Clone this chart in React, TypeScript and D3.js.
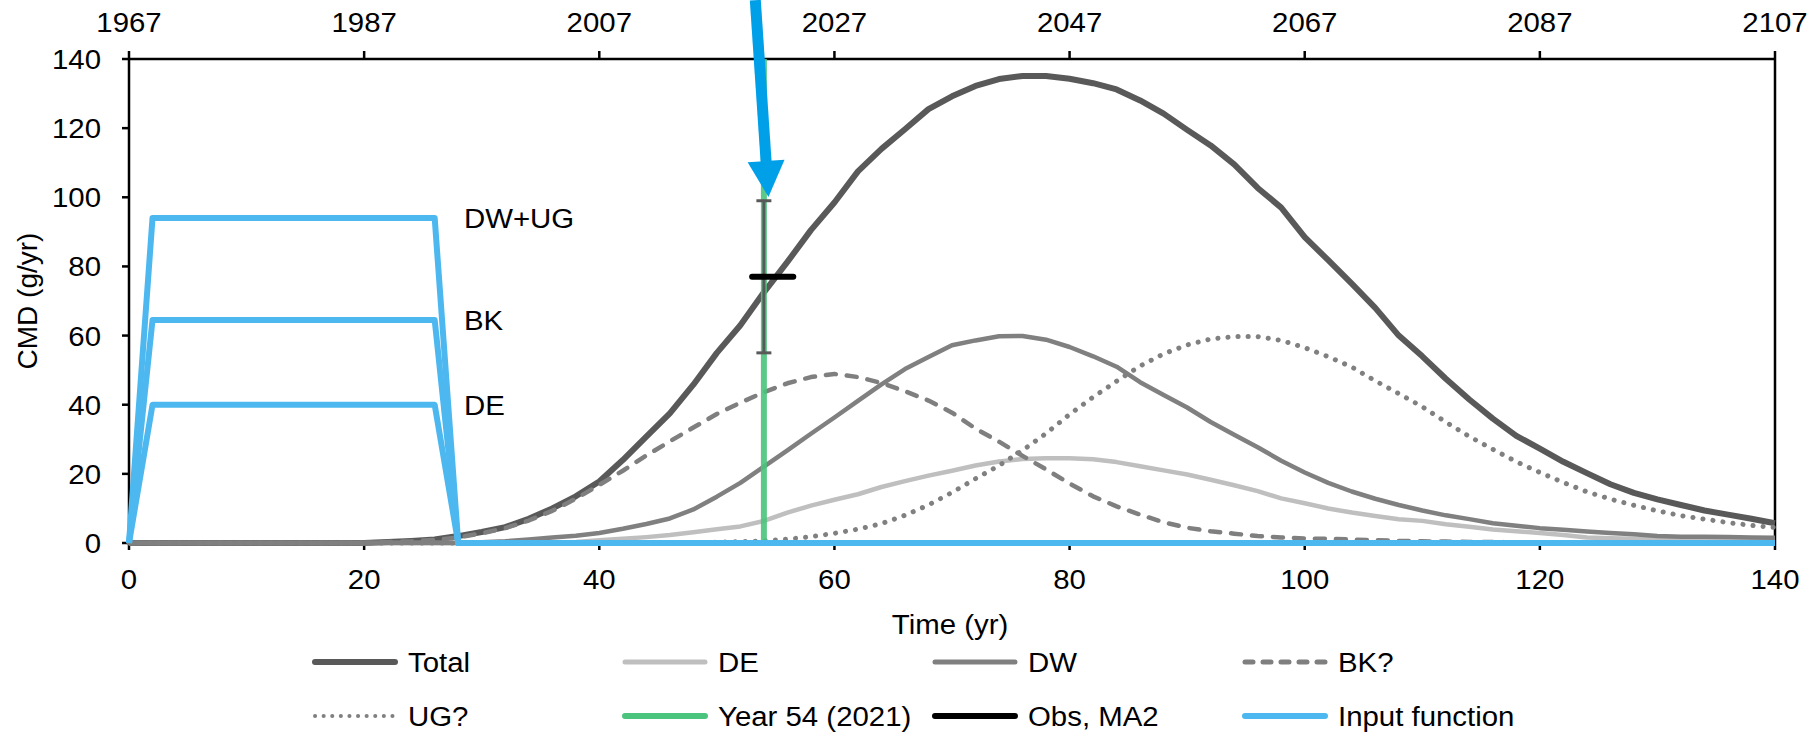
import React from "react";
import * as d3 from "d3";

// time axis (yr since 1967), every 2 years
const years = [
  0, 2, 4, 6, 8, 10, 12, 14, 16, 18, 20,
  22, 24, 26, 28, 30, 32, 34, 36, 38, 40,
  42, 44, 46, 48, 50, 52, 54, 56, 58, 60,
  62, 64, 66, 68, 70, 72, 74, 76, 78, 80,
  82, 84, 86, 88, 90, 92, 94, 96, 98, 100,
  102, 104, 106, 108, 110, 112, 114, 116, 118, 120,
  122, 124, 126, 128, 130, 132, 134, 136, 138, 140,
];

const total = [
  0, 0, 0, 0, 0, 0, 0, 0, 0, 0, 0,
  0.3, 0.6, 1.0, 2.0, 3.2, 4.6, 7.0, 10.0, 13.5, 17.8,
  24.0, 30.8, 37.5, 45.8, 55.0, 63.0, 72.5, 81.3, 90.5, 98.5,
  107.5, 114.0, 119.7, 125.5, 129.2, 132.2, 134.2, 135.1, 135.1, 134.3,
  133.0, 131.2, 128.0, 124.2, 119.5, 115.0, 109.5, 102.7, 97.0, 88.5,
  81.8, 75.0, 68.0, 60.0, 54.0, 47.5, 41.5, 36.0, 31.0, 27.3,
  23.5, 20.2, 17.0, 14.5, 12.6, 11.0, 9.4, 8.2, 7.0, 5.7,
];

const de = [
  0, 0, 0, 0, 0, 0, 0, 0, 0, 0, 0,
  0, 0, 0, 0, 0, 0, 0, 0, 0.3, 0.8,
  1.2, 1.7, 2.3, 3.1, 4.0, 4.8, 6.4, 8.8, 10.8, 12.5,
  14.1, 16.2, 17.9, 19.5, 20.9, 22.4, 23.6, 24.3, 24.5, 24.5,
  24.2, 23.4, 22.2, 21.0, 19.8, 18.3, 16.7, 15.0, 12.9, 11.5,
  10.0, 8.8, 7.8, 6.9, 6.4, 5.4, 4.7, 3.9, 3.4, 2.9,
  2.3, 1.6, 1.4, 1.2, 1.1, 1.0, 1.0, 0.9, 0.9, 0.9,
];

const dw = [
  0, 0, 0, 0, 0, 0, 0, 0, 0, 0, 0,
  0, 0, 0, 0, 0.2, 0.5, 1.0, 1.6, 2.1, 2.9,
  4.1, 5.5, 7.1, 9.7, 13.4, 17.4, 22.1, 26.8, 31.6, 36.3,
  41.1, 45.9, 50.3, 53.8, 57.2, 58.6, 59.8, 59.9, 58.8, 56.7,
  54.0, 51.0, 46.5, 42.8, 39.2, 35.0, 31.3, 27.7, 23.8, 20.4,
  17.4, 14.9, 12.8, 11.0, 9.4, 8.0, 6.9, 5.7, 5.0, 4.3,
  3.8, 3.3, 2.9, 2.5, 2.0, 1.8, 1.8, 1.7, 1.6, 1.5,
];

const bk = [
  0, 0, 0, 0, 0, 0, 0, 0, 0, 0, 0,
  0.3, 0.5, 0.9, 1.6, 2.8, 4.3, 6.5, 9.3, 12.8, 16.8,
  20.9, 25.3, 29.4, 33.4, 37.3, 40.6, 43.6, 46.2, 48.0, 48.9,
  48.0, 46.3, 43.9, 41.2, 37.7, 33.1, 29.3, 25.2, 21.3, 17.2,
  13.5, 10.6, 8.2, 6.0, 4.4, 3.4, 2.7, 2.0, 1.6, 1.3,
  1.2, 1.0, 0.8, 0.6, 0.5, 0.4, 0.3, 0.3, 0.2, 0.2,
  0.2, 0.1, 0.1, 0.1, 0.1, 0.1, 0.1, 0.1, 0.1, 0.1,
];

const ug = [
  0, 0, 0, 0, 0, 0, 0, 0, 0, 0, 0,
  0, 0, 0, 0, 0, 0, 0, 0, 0, 0,
  0, 0, 0, 0.1, 0.2, 0.4, 0.6, 1.1, 1.8, 2.8,
  4.0, 5.6, 8.0, 11.0, 14.6, 18.6, 22.4, 26.8, 31.7, 37.2,
  42.2, 46.8, 51.2, 54.7, 57.3, 59.0, 59.7, 59.7, 58.6, 56.5,
  53.9, 50.9, 46.9, 43.2, 39.4, 35.0, 30.8, 27.1, 23.5, 20.4,
  17.5, 14.8, 12.7, 10.9, 9.3, 7.9, 6.9, 5.9, 5.1, 4.5,
];

// input function
const inputT = [0, 2, 26, 28, 140];
const inputDWUG = [0, 94, 94, 0, 0];
const inputBK = [0, 64.5, 64.5, 0, 0];
const inputDE = [0, 40, 40, 0, 0];
const inputLabels = [
  { text: "DW+UG", v: 94 },
  { text: "BK", v: 64.5 },
  { text: "DE", v: 40 },
];

// observation (MA2) and year-54 marker
const obsT = [53, 56.5];
const obsV = 77;
const obsErr = { t: 54, lo: 55, hi: 99 };
const markT = 54;
const arrowFrom = [53.27, 157];
const arrowTo = [54.39, 100.1];

const xTicks = [0, 20, 40, 60, 80, 100, 120, 140];
const yTicks = [0, 20, 40, 60, 80, 100, 120, 140];
const topLabels = ["1967", "1987", "2007", "2027", "2047", "2067", "2087", "2107"];

const legendItems = [
  { name: "Total", color: "#595959", w: 6, dash: "" },
  { name: "DE", color: "#bfbfbf", w: 5, dash: "" },
  { name: "DW", color: "#808080", w: 5, dash: "" },
  { name: "BK?", color: "#7f7f7f", w: 5, dash: "8 10" },
  { name: "UG?", color: "#808080", w: 4, dash: "0.1 8.5" },
  { name: "Year 54 (2021)", color: "#4bc47d", w: 6, dash: "" },
  { name: "Obs, MA2", color: "#000000", w: 6, dash: "" },
  { name: "Input function", color: "#4db8f0", w: 6, dash: "" },
];

const FONT = "'Liberation Sans', Arial, sans-serif";
const SX = 1.05;

const Txt = ({ x, y, anchor = "start", size = 28, children }: any) => (
  <text
    transform={`translate(${x},${y}) scale(${SX},1)`}
    textAnchor={anchor}
    fontSize={size}
    fill="#000"
  >
    {children}
  </text>
);

export default function App() {
  const x = d3.scaleLinear().domain([0, 140]).range([129, 1775]);
  const y = d3.scaleLinear().domain([0, 140]).range([543, 59]);

  const line = d3
    .line<number>()
    .x((_, i) => x(years[i]))
    .y((d) => y(d));
  const inputLine = d3
    .line<number>()
    .x((_, i) => x(inputT[i]))
    .y((d) => y(d));

  // arrow geometry
  const ax0 = x(arrowFrom[0]), ay0 = y(arrowFrom[1]);
  const ax1 = x(arrowTo[0]), ay1 = y(arrowTo[1]);
  const len = Math.hypot(ax1 - ax0, ay1 - ay0);
  const ux = (ax1 - ax0) / len, uy = (ay1 - ay0) / len;
  const headL = 36, headW = 37;
  const bx = ax1 - ux * headL, by = ay1 - uy * headL;
  const head = [
    [ax1, ay1],
    [bx - uy * headW / 2, by + ux * headW / 2],
    [bx + uy * headW / 2, by - ux * headW / 2],
  ];

  const series = [
    { d: total, color: "#595959", w: 6, dash: "" },
    { d: de, color: "#bfbfbf", w: 4.5, dash: "" },
    { d: dw, color: "#808080", w: 4.5, dash: "" },
    { d: bk, color: "#7f7f7f", w: 4.5, dash: "10 11" },
    { d: ug, color: "#808080", w: 5, dash: "0.1 10" },
  ];

  return (
    <svg
      width={1815}
      height={732}
      style={{ position: "absolute", left: 0, top: 0, background: "#fff" }}
      fontFamily={FONT}
    >
      <rect width={1815} height={732} fill="#fff" />

      {/* frame and axes */}
      <g stroke="#000" strokeWidth={2.5} fill="none">
        <line x1={x(0)} x2={x(140)} y1={y(0)} y2={y(0)} />
        <line x1={x(0)} x2={x(140)} y1={y(140)} y2={y(140)} />
        <line x1={x(0)} x2={x(0)} y1={y(0)} y2={y(140)} />
        <line x1={x(140)} x2={x(140)} y1={y(0)} y2={y(140)} />
        {xTicks.map((t) => (
          <g key={t}>
            <line x1={x(t)} x2={x(t)} y1={y(0)} y2={y(0) + 7} />
            <line x1={x(t)} x2={x(t)} y1={y(140)} y2={y(140) - 8} />
          </g>
        ))}
        {yTicks.map((v) => (
          <line key={v} x1={x(0) - 7} x2={x(0)} y1={y(v)} y2={y(v)} />
        ))}
      </g>
      {xTicks.map((t) => (
        <Txt key={t} x={x(t)} y={y(0) + 46} anchor="middle">
          {t}
        </Txt>
      ))}
      {xTicks.map((t, i) => (
        <Txt key={t} x={x(t)} y={32} anchor="middle">
          {topLabels[i]}
        </Txt>
      ))}
      {yTicks.map((v) => (
        <Txt key={v} x={x(0) - 28} y={y(v) + 10} anchor="end">
          {v}
        </Txt>
      ))}
      <text
        transform={`translate(37,${(y(0) + y(140)) / 2}) rotate(-90)`}
        textAnchor="middle"
        fontSize={28}
      >
        CMD (g/yr)
      </text>
      <Txt x={950} y={634} anchor="middle">
        Time (yr)
      </Txt>

      {/* model series */}
      {series.map((s, i) => (
        <path
          key={i}
          d={line(s.d) || ""}
          fill="none"
          stroke={s.color}
          strokeWidth={s.w}
          strokeDasharray={s.dash || undefined}
          strokeLinecap={s.dash ? "round" : "butt"}
          strokeLinejoin="round"
        />
      ))}

      {/* year 54 */}
      <line
        x1={x(markT)}
        x2={x(markT)}
        y1={y(0)}
        y2={y(140)}
        stroke="#4bc47d"
        strokeWidth={6}
        opacity={0.9}
      />

      {/* obs with error bar */}
      <g stroke="#595959" strokeWidth={3}>
        <line x1={x(obsErr.t)} x2={x(obsErr.t)} y1={y(obsErr.lo)} y2={y(obsErr.hi)} />
        <line x1={x(obsErr.t) - 7.5} x2={x(obsErr.t) + 7.5} y1={y(obsErr.lo)} y2={y(obsErr.lo)} />
        <line x1={x(obsErr.t) - 7.5} x2={x(obsErr.t) + 7.5} y1={y(obsErr.hi)} y2={y(obsErr.hi)} />
      </g>
      <line
        x1={x(obsT[0])}
        x2={x(obsT[1])}
        y1={y(obsV)}
        y2={y(obsV)}
        stroke="#000"
        strokeWidth={6}
        strokeLinecap="round"
      />

      {/* input function */}
      {[inputDWUG, inputBK, inputDE].map((d, i) => (
        <path
          key={i}
          d={inputLine(d) || ""}
          fill="none"
          stroke="#4db8f0"
          strokeWidth={6}
          strokeLinejoin="round"
        />
      ))}
      {inputLabels.map((l) => (
        <Txt key={l.text} x={464} y={y(l.v) + 10}>
          {l.text}
        </Txt>
      ))}

      {/* arrow */}
      <line x1={ax0} y1={ay0} x2={bx + ux * 2} y2={by + uy * 2} stroke="#00a0e9" strokeWidth={11} />
      <polygon points={head.map((p) => p.join(",")).join(" ")} fill="#00a0e9" />

      {/* legend */}
      {legendItems.map((it, i) => {
        const col = i % 4;
        const row = Math.floor(i / 4);
        const lx = 312 + col * 310;
        const ly = row === 0 ? 662 : 716;
        return (
          <g key={it.name}>
            <line
              x1={lx + 3}
              x2={lx + 83}
              y1={ly}
              y2={ly}
              stroke={it.color}
              strokeWidth={it.w}
              strokeDasharray={it.dash || undefined}
              strokeLinecap="round"
            />
            <Txt x={lx + 96} y={ly + 10}>
              {it.name}
            </Txt>
          </g>
        );
      })}
    </svg>
  );
}
